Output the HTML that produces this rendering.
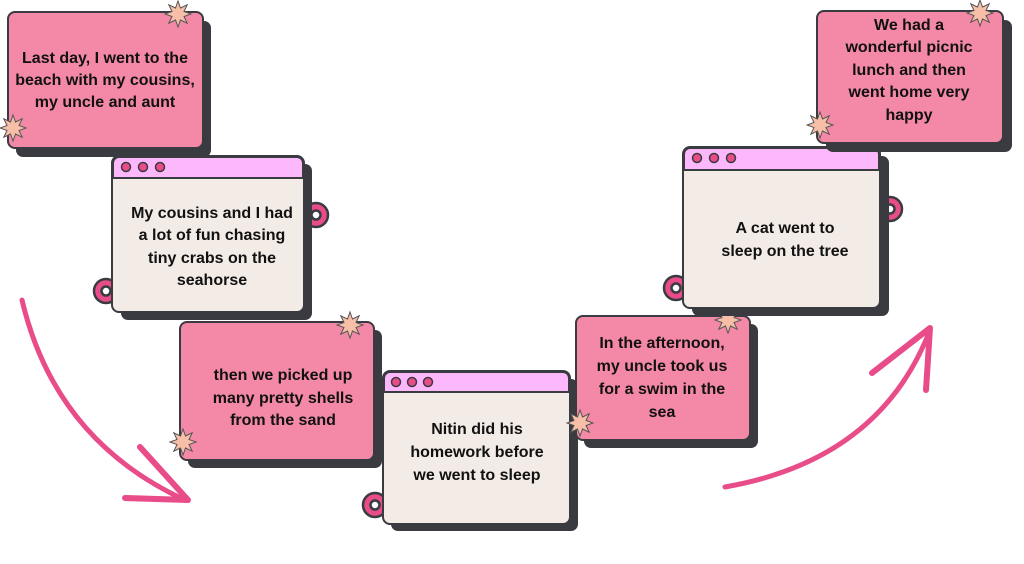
<!DOCTYPE html>
<html><head><style>
html,body{margin:0;padding:0;background:#fff;}
svg{display:block;}
text{font-family:"Liberation Sans",sans-serif;font-weight:bold;font-size:16px;fill:#111;text-anchor:middle;}
</style></head><body>
<svg width="1024" height="564" viewBox="0 0 1024 564" xmlns="http://www.w3.org/2000/svg">
<defs>
<polygon id="st" points="0,-13 2.5,-6 9.2,-9.2 6,-2.5 13,0 6,2.5 9.2,9.2 2.5,6 0,13 -2.5,6 -9.2,9.2 -6,2.5 -13,0 -6,-2.5 -9.2,-9.2 -2.5,-6" fill="#f7bfa8" stroke="#555" stroke-width="1"/>
<g id="ring"><circle r="12" fill="#e84d8a" stroke="#3a3b40" stroke-width="2.5"/><circle r="4.5" fill="#fff" stroke="#3a3b40" stroke-width="2.5"/></g>
</defs>
<!-- arrows -->
<path d="M22,300 Q55,440 185,500" fill="none" stroke="#e84d8a" stroke-width="5" stroke-linecap="round"/>
<path d="M140,447 L188,500 L125,498" fill="none" stroke="#e84d8a" stroke-width="6" stroke-linecap="round" stroke-linejoin="round"/>
<path d="M725,487 Q880,460 930,330" fill="none" stroke="#e84d8a" stroke-width="5" stroke-linecap="round"/>
<path d="M872,373 L930,328 L926,390" fill="none" stroke="#e84d8a" stroke-width="6" stroke-linecap="round" stroke-linejoin="round"/>

<!-- Box1 -->
<rect x="16" y="21" width="195" height="136" rx="7" fill="#3a3b40"/>
<rect x="8" y="12" width="195" height="136" rx="7" fill="#f489a7" stroke="#3a3b40" stroke-width="2"/>
<text x="105" y="63">Last day, I went to the</text>
<text x="105" y="85">beach with my cousins,</text>
<text x="105" y="107">my uncle and aunt</text>
<use href="#st" x="178" y="14"/><use href="#st" x="13" y="128"/>

<!-- Box2 -->
<use href="#ring" x="316" y="215"/><use href="#ring" x="106" y="291"/>
<rect x="121" y="164" width="191" height="156" rx="7" fill="#3a3b40"/>
<rect x="112" y="156" width="192" height="156" rx="7" fill="#f3ebe6" stroke="#3a3b40" stroke-width="2"/>
<path d="M113,178 V163 a6,6 0 0 1 6,-6 H297 a6,6 0 0 1 6,6 V178 Z" fill="#fdb8fb" stroke="#3a3b40" stroke-width="2"/>
<circle cx="126" cy="167" r="4.5" fill="#e84d8a" stroke="#3a3b40" stroke-width="1.5"/><circle cx="143" cy="167" r="4.5" fill="#e84d8a" stroke="#3a3b40" stroke-width="1.5"/><circle cx="160" cy="167" r="4.5" fill="#e84d8a" stroke="#3a3b40" stroke-width="1.5"/>
<text x="212" y="218">My cousins and I had</text>
<text x="212" y="240">a lot of fun chasing</text>
<text x="212" y="263">tiny crabs on the</text>
<text x="212" y="285">seahorse</text>

<!-- Box3 -->
<rect x="188" y="330" width="194" height="138" rx="7" fill="#3a3b40"/>
<rect x="180" y="322" width="194" height="138" rx="7" fill="#f489a7" stroke="#3a3b40" stroke-width="2"/>
<text x="283" y="380">then we picked up</text>
<text x="283" y="403">many pretty shells</text>
<text x="283" y="425">from the sand</text>
<use href="#st" x="350" y="325"/><use href="#st" x="183" y="442"/>

<!-- Box4 -->
<use href="#ring" x="375" y="505"/>
<rect x="391" y="379" width="187" height="152" rx="7" fill="#3a3b40"/>
<rect x="383" y="371" width="187" height="153" rx="7" fill="#f3ebe6" stroke="#3a3b40" stroke-width="2"/>
<path d="M384,392 V378 a6,6 0 0 1 6,-6 H563 a6,6 0 0 1 6,6 V392 Z" fill="#fdb8fb" stroke="#3a3b40" stroke-width="2"/>
<circle cx="396" cy="382" r="4.5" fill="#e84d8a" stroke="#3a3b40" stroke-width="1.5"/><circle cx="412" cy="382" r="4.5" fill="#e84d8a" stroke="#3a3b40" stroke-width="1.5"/><circle cx="428" cy="382" r="4.5" fill="#e84d8a" stroke="#3a3b40" stroke-width="1.5"/>
<text x="477" y="434">Nitin did his</text>
<text x="477" y="457">homework before</text>
<text x="477" y="480">we went to sleep</text>

<!-- Box5 -->
<rect x="584" y="324" width="174" height="124" rx="7" fill="#3a3b40"/>
<rect x="576" y="316" width="174" height="124" rx="7" fill="#f489a7" stroke="#3a3b40" stroke-width="2"/>
<text x="662" y="348">In the afternoon,</text>
<text x="662" y="371">my uncle took us</text>
<text x="662" y="394">for a swim in the</text>
<text x="662" y="417">sea</text>
<use href="#st" x="728" y="320"/><use href="#st" x="580" y="423"/>

<!-- Box6 -->
<use href="#ring" x="890" y="209"/><use href="#ring" x="676" y="288"/>
<rect x="692" y="156" width="197" height="160" rx="7" fill="#3a3b40"/>
<rect x="683" y="147" width="197" height="161" rx="7" fill="#f3ebe6" stroke="#3a3b40" stroke-width="2"/>
<path d="M684,170 V154 a6,6 0 0 1 6,-6 H873 a6,6 0 0 1 6,6 V170 Z" fill="#fdb8fb" stroke="#3a3b40" stroke-width="2"/>
<circle cx="697" cy="158" r="4.5" fill="#e84d8a" stroke="#3a3b40" stroke-width="1.5"/><circle cx="714" cy="158" r="4.5" fill="#e84d8a" stroke="#3a3b40" stroke-width="1.5"/><circle cx="731" cy="158" r="4.5" fill="#e84d8a" stroke="#3a3b40" stroke-width="1.5"/>
<text x="785" y="233">A cat went to</text>
<text x="785" y="256">sleep on the tree</text>

<!-- Box7 -->
<rect x="826" y="20" width="186" height="132" rx="7" fill="#3a3b40"/>
<rect x="817" y="11" width="186" height="132" rx="7" fill="#f489a7" stroke="#3a3b40" stroke-width="2"/>
<text x="909" y="30">We had a</text>
<text x="909" y="52">wonderful picnic</text>
<text x="909" y="75">lunch and then</text>
<text x="909" y="97">went home very</text>
<text x="909" y="120">happy</text>
<use href="#st" x="980" y="13"/><use href="#st" x="820" y="125"/>
</svg>
</body></html>
